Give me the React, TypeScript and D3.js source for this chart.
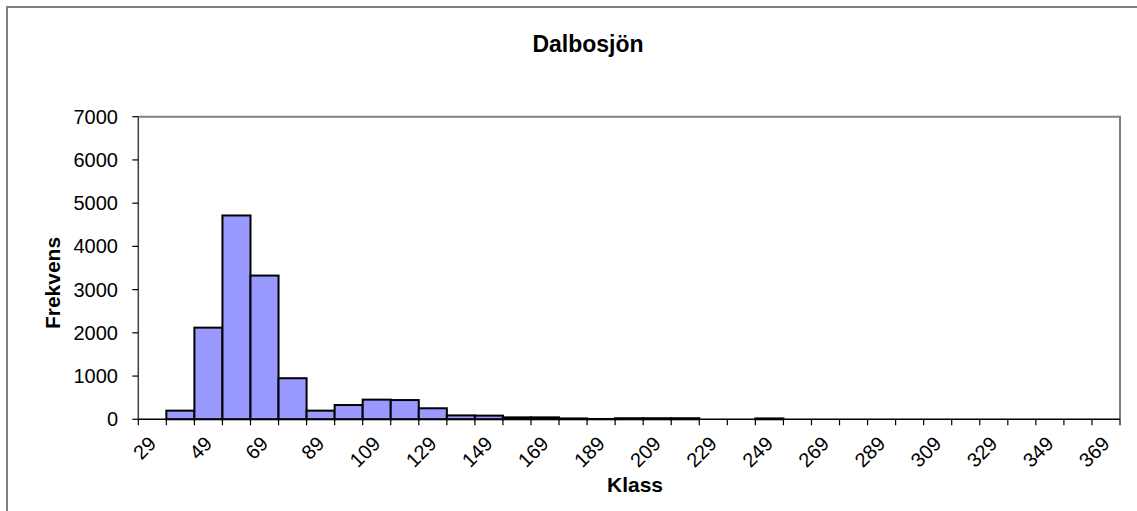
import React from "react";
import * as d3 from "d3";

const categories: string[] = [
  "29","39","49","59","69","79","89","99","109","119","129","139","149","159","169","179","189","199",
  "209","219","229","239","249","259","269","279","289","299","309","319","329","339","349","359","369",
];
const frequencies: number[] = [
  0, 200, 2120, 4715, 3325, 950, 200, 330, 455, 445, 255, 90, 85, 45, 45, 20, 8, 25,
  25, 25, 0, 0, 20, 0, 0, 0, 0, 0, 0, 0, 0, 0, 0, 0, 0,
];
const shownLabels: string[] = [
  "29","49","69","89","109","129","149","169","189","209","229","249","269","289","309","329","349","369",
];
const yTicks: number[] = [0, 1000, 2000, 3000, 4000, 5000, 6000, 7000];

const W = 1137;
const H = 511;
const left = 138.3;
const right = 1120;
const top = 116.7;
const bottom = 419.3;

export default function App() {
  const x = d3.scaleBand<string>().domain(categories).range([left, right]).padding(0);
  const y = d3.scaleLinear().domain([0, 7000]).range([bottom, top]);
  const bw = x.bandwidth();
  const font = "Arial, 'Liberation Sans', sans-serif";
  const boundaries = d3.range(categories.length + 1).map((i) => left + i * bw);

  return (
    <div style={{ position: "absolute", left: 0, top: 0 }}>
      <svg width={W} height={H} style={{ display: "block", background: "#fff" }} fontFamily={font}>
        {/* outer frame */}
        <path d={`M7,${H + 5} L7,7 L${W + 5},7`} fill="none" stroke="#808080" strokeWidth={2} />
        {/* title */}
        <text x={588} y={52} textAnchor="middle" fontSize={23} fontWeight="bold">Dalbosjön</text>

        {/* plot border top/right */}
        <path d={`M${left},${top} L${right},${top} L${right},${bottom}`} fill="none" stroke="#808080" strokeWidth={2} />

        {/* bars */}
        {categories.map((c, i) =>
          frequencies[i] > 0 ? (
            <rect
              key={c}
              x={x(c)}
              y={y(frequencies[i])}
              width={bw}
              height={Math.max(0, bottom - y(frequencies[i]))}
              fill="#9999FF"
              stroke="#000"
              strokeWidth={2}
            />
          ) : null
        )}

        {/* y axis */}
        <line x1={left} x2={left} y1={top} y2={bottom} stroke="#404040" strokeWidth={1.5} />
        {yTicks.map((t) => (
          <g key={t}>
            <line x1={left - 6} x2={left} y1={y(t)} y2={y(t)} stroke="#000" strokeWidth={1.2} />
            <text x={118} y={y(t)} dy="0.35em" textAnchor="end" fontSize={20}>{t}</text>
          </g>
        ))}

        {/* x axis */}
        <line x1={left} x2={right} y1={bottom} y2={bottom} stroke="#000" strokeWidth={1.5} />
        {boundaries.map((bx, i) => (
          <line key={i} x1={bx} x2={bx} y1={bottom} y2={bottom + 6} stroke="#000" strokeWidth={1.2} />
        ))}
        {shownLabels.map((l) => {
          const cx = (x(l) as number) + bw / 2;
          const cy = 440;
          return (
            <text
              key={l}
              x={cx}
              y={cy}
              textAnchor="end"
              fontSize={20}
              dy="0.35em"
              transform={`rotate(-45, ${cx}, ${cy})`}
            >
              {l}
            </text>
          );
        })}

        {/* axis titles */}
        <text x={635} y={492} textAnchor="middle" fontSize={21} fontWeight="bold">Klass</text>
        <text
          x={0}
          y={0}
          textAnchor="middle"
          fontSize={21}
          fontWeight="bold"
          transform={`translate(60, 283) rotate(-90)`}
        >
          Frekvens
        </text>
      </svg>
    </div>
  );
}
